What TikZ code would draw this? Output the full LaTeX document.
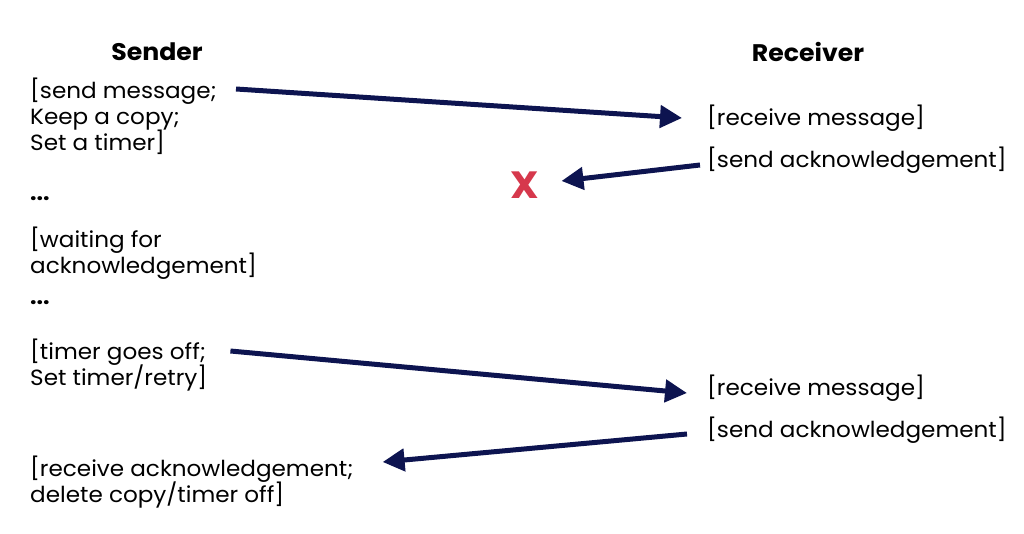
\documentclass[tikz,border=0pt]{standalone}
\usepackage{fontspec}
\setmainfont{Poppins}[FakeStretch=1.05]
\usetikzlibrary{positioning}
\usetikzlibrary{arrows.meta}
\definecolor{navy}{RGB}{13,20,80}
\definecolor{lossred}{RGB}{214,56,76}
\newcommand\eventfont{\fontsize{22}{26}\selectfont\lineskiplimit -100pt\relax}

\begin{document}
\begin{tikzpicture}[x=1pt, y=-1pt,
    side/.style = {font=\fontsize{24}{26}\selectfont\bfseries},
    event/.style = {inner sep=0pt, align=left, font=\eventfont},
    msg/.style = {draw=navy, line width=5pt, -{Triangle[length=22pt, width=22pt]}}]
    \useasboundingbox (0,0) rectangle (1024,534);
    \node[side](sender) at (157,52){Sender};
    \node[side](receiver) at (808,52){Receiver};
    % sender side
    \node[event, anchor=north west](send) at (30,78){[send message;\\Keep a copy;\\Set a timer]};
    \node[event, anchor=west, font=\eventfont\bfseries](dots1) at (30,199){...};
    \node[event, anchor=north west](wait) at (30,227){[waiting for\\acknowledgement]};
    \node[event, anchor=west, font=\eventfont\bfseries](dots2) at (30,303){...};
    \node[event, anchor=north west](timer) at (30,339){[timer goes off;\\Set timer/retry]};
    \node[event, anchor=north west](done) at (30,456){[receive acknowledgement;\\delete copy/timer off]};
    % receiver side
    \node[event, anchor=west](recv1) at (707,118){[receive message]};
    \node[event, anchor=west](sack1) at (707,160){[send acknowledgement]};
    \node[event, anchor=west](recv2) at (707,388){[receive message]};
    \node[event, anchor=west](sack2) at (707,430){[send acknowledgement]};
    \node[text=lossred, inner sep=0pt, font=\fontsize{38}{38}\selectfont\bfseries](lost) at (525,185){X};
    % messages
    \draw[msg] ([xshift=19pt, yshift=-11pt]send.north east) -- ([xshift=-25pt]recv1.west);
    \draw[msg] ([xshift=-7pt, yshift=-5pt]sack1.west) -- ([xshift=22pt, yshift=4pt]lost.east);
    \draw[msg] ([xshift=23pt, yshift=-12pt]timer.north east) -- ([xshift=-20pt, yshift=-5pt]recv2.west);
    \draw[msg] ([xshift=-20pt, yshift=-4pt]sack2.west) -- ([xshift=29pt, yshift=-6pt]done.north east);
\end{tikzpicture}
\end{document}
